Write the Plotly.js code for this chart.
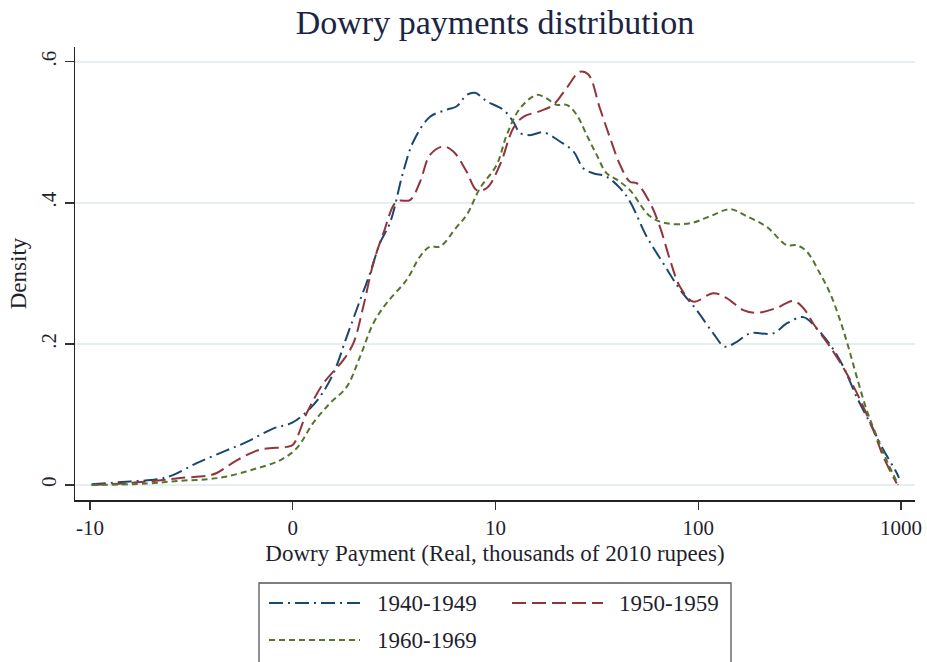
<!DOCTYPE html>
<html>
<head>
<meta charset="utf-8">
<script src="https://cdn.plot.ly/plotly-3.0.1.min.js"></script>
<style>
  html, body { margin: 0; padding: 0; background: #ffffff; }
  #chart { width: 927px; height: 662px; }
</style>
</head>
<body>
<div id="chart"></div>
<script>
// X positions are in axis units of the transformed scale: tick k sits at k (labels below)
const tickLabelsX = ['-10', '0', '10', '100', '1000'];
const tickValsX = [0, 1, 2, 3, 4];
const tickValsY = [0, 0.2, 0.4, 0.6];
const tickLabelsY = ['0', '.2', '.4', '.6'];
const seriesNames = ['1940-1949', '1950-1959', '1960-1969'];

const x1940 = [0.008,0.197,0.329,0.409,0.526,0.656,0.773,0.903,0.995,1.069,1.134,1.200,1.266,1.332,1.381,1.430,1.480,1.545,1.595,1.677,1.759,1.809,1.858,1.899,1.957,2.038,2.088,2.121,2.170,2.236,2.318,2.384,2.433,2.482,2.548,2.614,2.663,2.746,2.828,2.910,2.992,3.074,3.132,3.190,3.256,3.370,3.436,3.518,3.584,3.650,3.715,3.781,3.847,3.913,3.979,3.990];
const y1940 = [0.001,0.005,0.008,0.014,0.031,0.047,0.061,0.080,0.088,0.104,0.125,0.158,0.210,0.262,0.300,0.343,0.372,0.444,0.487,0.522,0.532,0.537,0.553,0.556,0.544,0.532,0.515,0.499,0.496,0.500,0.487,0.473,0.449,0.442,0.437,0.421,0.402,0.352,0.314,0.277,0.248,0.215,0.196,0.203,0.215,0.215,0.229,0.238,0.222,0.199,0.168,0.125,0.088,0.050,0.017,0.010];

const x1950 = [0.008,0.197,0.360,0.444,0.576,0.625,0.724,0.838,0.970,1.001,1.069,1.151,1.249,1.299,1.348,1.397,1.447,1.513,1.578,1.628,1.677,1.743,1.792,1.858,1.907,1.957,2.022,2.088,2.137,2.219,2.285,2.351,2.417,2.458,2.515,2.565,2.614,2.663,2.696,2.762,2.811,2.861,2.910,2.976,3.074,3.140,3.222,3.288,3.387,3.469,3.518,3.567,3.650,3.732,3.798,3.863,3.913,3.979];
const y1950 = [0.000,0.003,0.007,0.010,0.013,0.017,0.035,0.050,0.054,0.057,0.102,0.144,0.177,0.201,0.253,0.314,0.357,0.402,0.404,0.430,0.468,0.480,0.473,0.444,0.418,0.421,0.454,0.506,0.522,0.530,0.539,0.563,0.586,0.582,0.534,0.492,0.454,0.430,0.428,0.400,0.366,0.319,0.281,0.260,0.272,0.265,0.248,0.244,0.251,0.261,0.251,0.229,0.196,0.158,0.121,0.078,0.040,0.002];

const x1960 = [0.008,0.280,0.444,0.576,0.674,0.804,0.937,1.019,1.101,1.184,1.266,1.332,1.397,1.463,1.562,1.628,1.677,1.726,1.809,1.858,1.924,2.006,2.055,2.121,2.203,2.253,2.302,2.351,2.400,2.450,2.499,2.548,2.598,2.663,2.762,2.844,2.959,3.058,3.157,3.239,3.338,3.436,3.485,3.535,3.600,3.650,3.699,3.740,3.781,3.831,3.880,3.929,3.987];
const y1960 = [0.000,0.002,0.006,0.008,0.012,0.022,0.035,0.052,0.088,0.116,0.139,0.182,0.229,0.258,0.291,0.324,0.338,0.338,0.366,0.383,0.421,0.454,0.496,0.534,0.553,0.548,0.539,0.539,0.525,0.496,0.468,0.442,0.433,0.418,0.381,0.371,0.371,0.381,0.391,0.381,0.366,0.340,0.340,0.331,0.300,0.272,0.234,0.196,0.154,0.106,0.069,0.035,0.000];

const colors = ['#1a476f', '#90353b', '#55752f'];
const dashes = ['14px,5px,2px,5px', '14px,6px', '6px,4px'];
const xs = [x1940, x1950, x1960];
const ys = [y1940, y1950, y1960];

const FONT = 'Liberation Serif, Times New Roman, serif';
const TXT = '#1f1f2e';

const traces = seriesNames.map((name, i) => ({
  type: 'scatter', mode: 'lines', name: name,
  x: xs[i], y: ys[i],
  line: { color: colors[i], width: 2, dash: dashes[i], shape: 'spline', smoothing: 1 },
  showlegend: false, hoverinfo: 'skip'
}));

// layout geometry
const M = { l: 75, r: 12, t: 47, b: 162 };
const W = 927, H = 662;
const pw = W - M.l - M.r, ph = H - M.t - M.b;
const px = v => (v - M.l) / pw;
const py = v => (H - M.b - v) / ph;

// manual legend (long line samples as in reference)
const legendRows = [
  { lx0: 269, lx1: 360, tx: 375, y: 603 },
  { lx0: 512, lx1: 603, tx: 617, y: 603 },
  { lx0: 269, lx1: 360, tx: 375, y: 640 }
];
const shapes = [{
  type: 'rect', xref: 'paper', yref: 'paper',
  x0: px(259), x1: px(731), y0: py(665), y1: py(583),
  line: { color: '#555555', width: 1.3 }, fillcolor: 'rgba(0,0,0,0)'
}];
const annotations = [];
legendRows.forEach((r, i) => {
  shapes.push({
    type: 'line', xref: 'paper', yref: 'paper',
    x0: px(r.lx0), x1: px(r.lx1), y0: py(r.y), y1: py(r.y),
    line: { color: colors[i], width: 2, dash: dashes[i] }
  });
  annotations.push({
    xref: 'paper', yref: 'paper', x: px(r.tx), y: py(r.y),
    xanchor: 'left', yanchor: 'middle', showarrow: false,
    text: seriesNames[i], font: { family: FONT, size: 23, color: TXT }
  });
});

const layout = {
  width: W, height: H,
  margin: M,
  paper_bgcolor: '#ffffff', plot_bgcolor: '#ffffff',
  showlegend: false,
  title: {
    text: 'Dowry payments distribution',
    font: { family: FONT, size: 34, color: '#1c2444' },
    x: 0.5, xref: 'paper', xanchor: 'center',
    y: 1 - 22 / H, yref: 'container', yanchor: 'middle'
  },
  xaxis: {
    range: [-0.074, 4.069],
    tickmode: 'array', tickvals: tickValsX, ticktext: tickLabelsX,
    ticks: 'outside', ticklen: 8, tickwidth: 1.3, tickcolor: '#333333',
    showline: true, linecolor: '#222222', linewidth: 1.5,
    showgrid: false, zeroline: false,
    tickfont: { family: FONT, size: 21, color: TXT },
    title: { text: 'Dowry Payment (Real, thousands of 2010 rupees)', font: { family: FONT, size: 23, color: TXT }, standoff: 6 }
  },
  yaxis: {
    range: [-0.0213, 0.621],
    tickmode: 'array', tickvals: tickValsY, ticktext: tickLabelsY,
    tickangle: -90,
    ticks: 'outside', ticklen: 9, tickwidth: 1.3, tickcolor: '#333333',
    showline: true, linecolor: '#222222', linewidth: 1.5,
    showgrid: true, gridcolor: '#e6eef1', gridwidth: 1.5,
    zeroline: false,
    tickfont: { family: FONT, size: 21, color: TXT },
    title: { text: 'Density', font: { family: FONT, size: 23, color: TXT }, standoff: 4 }
  },
  shapes: shapes,
  annotations: annotations
};

Plotly.newPlot('chart', traces, layout, { displayModeBar: false, staticPlot: true });
</script>
</body>
</html>
